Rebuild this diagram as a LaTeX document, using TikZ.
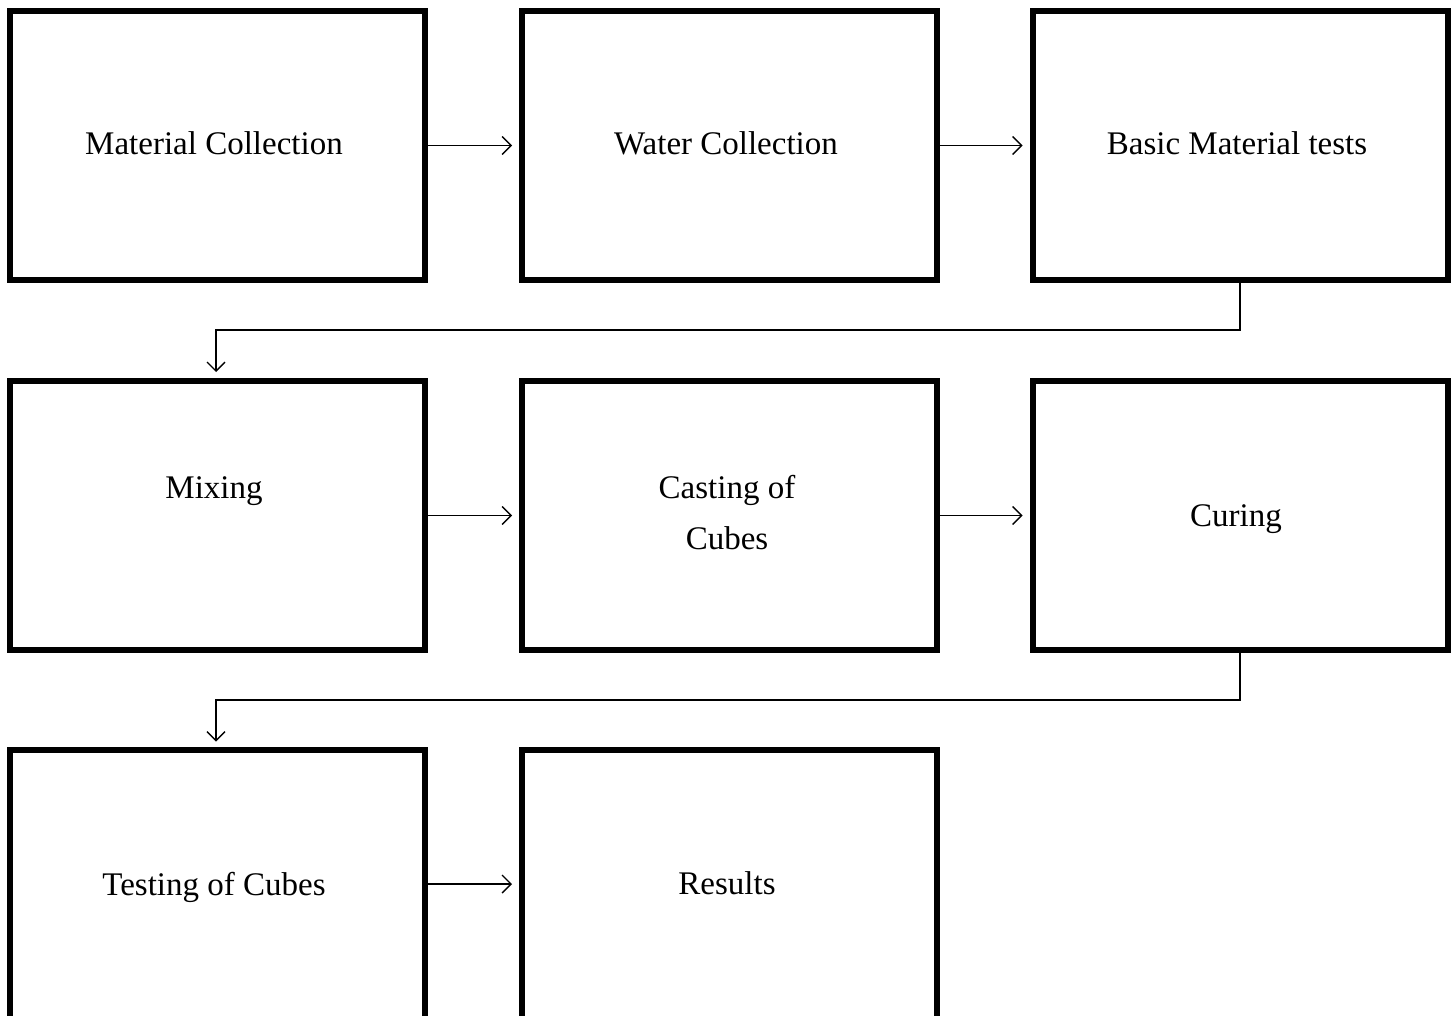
\documentclass[tikz,border=0pt]{standalone}
\usepackage{fontspec}
\setmainfont{Liberation Serif}
\usetikzlibrary{arrows.meta,calc}
\begin{document}
\begin{tikzpicture}[x=1pt,y=-1pt,
  box/.style={draw=black,line width=6pt,minimum width=415pt,minimum height=269pt,inner sep=0pt,outer sep=0pt},
  lbl/.style={font=\fontsize{33}{51}\selectfont,align=center,inner sep=0pt},
  arr/.style={line width=1.4pt,-{Straight Barb[length=9pt,width=18pt,line width=1.4pt]}}]
\useasboundingbox (0,0) rectangle (1456,1016);
% row 1
\node[box] (a) at (217.5,145.5) {};
\node[box] (b) at (729.5,145.5) {};
\node[box] (c) at (1240,145.5) {};
% row 2
\node[box] (d) at (217.5,515.5) {};
\node[box] (e) at (729.5,515.5) {};
\node[box] (f) at (1240,515.5) {};
% row 3
\node[box] (g) at (217.5,884) {};
\node[box] (h) at (729.5,884) {};
% labels
\node[lbl] (ta) at (214,143) {Material Collection};
\node[lbl] (tb) at (726,143) {Water Collection};
\node[lbl] (tc) at (1237,143) {Basic Material tests};
\node[lbl] (td) at (214,491) {Mixing};
\node[lbl] (te) at (727,513) {Casting of\\Cubes};
\node[lbl] (tf) at (1236,519) {Curing};
\node[lbl] (tg) at (214,887) {Testing of Cubes};
\node[lbl] (th) at (727,883) {Results};
% arrows
\draw[arr] (a.east) -- ([xshift=-10pt]b.west);
\draw[arr] (b.east) -- ([xshift=-10pt]c.west);
\draw[arr] (d.east) -- ([xshift=-10pt]e.west);
\draw[arr] (e.east) -- ([xshift=-10pt]f.west);
\draw[arr] (g.east) -- ([xshift=-10pt]h.west);
% connectors
\coordinate (k1) at (0,330);
\coordinate (k2) at (0,700);
\draw[arr] (c.south) -- (c.south |- k1) -| ([xshift=-1.5pt,yshift=9pt]d.north);
\draw[arr] (f.south) -- (f.south |- k2) -| ([xshift=-1.5pt,yshift=8pt]g.north);
\end{tikzpicture}
\end{document}
